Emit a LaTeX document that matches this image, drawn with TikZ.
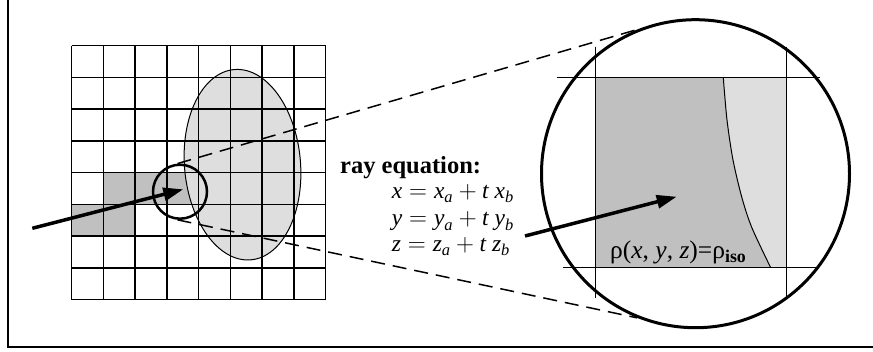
\documentclass[tikz,border=0pt]{standalone}
\usepackage{amsmath}
\usepackage{fontspec}
\setmainfont{Liberation Serif}
\usetikzlibrary{arrows.meta, calc}
\definecolor{cellgray}{RGB}{192,192,192}
\definecolor{blobgray}{RGB}{222,222,222}
\tikzset{
  gridline/.style={line width=1.5pt},
  ray/.style={line width=3.5pt, -{Triangle[length=20pt,width=13pt]}},
  zoomline/.style={line width=1.5pt, dash pattern=on 14pt off 8pt},
  ring/.style={circle, draw, inner sep=0pt},
  eqtext/.style={anchor=base west, inner sep=0pt, font=\fontsize{23.5}{28}\selectfont},
}
\newcommand{\iv}[1]{\textit{#1}}

\begin{document}
\begin{tikzpicture}[x=1pt,y=-1pt]
        \useasboundingbox (0,0) rectangle (873,351);
        % frame
        \draw[line width=2pt] (8,0) -- (8,347) -- (873,347);
        % voxels hit by the ray
        \foreach \c/\r in {1/4,2/4,3/4,0/5,1/5}
          \fill[cellgray] (71.7+\c*31.75,45.7+\r*31.75) rectangle ++(31.75,31.75);
        % iso-surface blob
        \fill[blobgray, rotate around={5:(242.5,164.7)}] (242.5,164.7) ellipse (58 and 95.5);
        % voxel grid
        \foreach \i in {0,...,8} {
          \draw[gridline] (71.7+\i*31.75,45.7) -- (71.7+\i*31.75,299.7);
          \draw[gridline] (71.7,45.7+\i*31.75) -- (325.7,45.7+\i*31.75);
        }
        \draw[line width=1pt, rotate around={5:(242.5,164.7)}] (242.5,164.7) ellipse (58 and 95.5);
        % magnified voxel
        \fill[cellgray] (595.7,77.7) rectangle (786.7,267.7);
        \fill[blobgray] plot[smooth, tension=0.5] coordinates {(723.3,77.7) (727,120) (733,160) (742,198) (752,228) (770.7,267.7)}
          -- (786.7,267.7) -- (786.7,77.7) -- cycle;
        \draw[line width=1pt] plot[smooth, tension=0.5] coordinates {(723.3,77.7) (727,120) (733,160) (742,198) (752,228) (770.7,267.7)};
        \draw[gridline] (556.7,77.7) -- (820,77.7);
        \draw[gridline] (563.3,267.7) -- (816.7,267.7);
        \draw[gridline] (595.7,46.7) -- (595.7,298.3);
        \draw[gridline] (786.7,46.7) -- (786.7,296.7);
        % lens and zoom circles
        \node[ring, line width=2.5pt, minimum size=54pt] (lens) at (180,191.7) {};
        \node[ring, line width=3pt, minimum size=308pt] (zoom) at (695.5,173.7) {};
        \draw[zoomline] (lens.95) -- (zoom.112);
        \draw[zoomline] (lens.-95) -- (zoom.-112);
        % rays
        \coordinate (rayin) at (32.3,228.3);
        \coordinate (raytip) at (183.3,189.3);
        \draw[ray] (rayin) -- (raytip);
        \coordinate (zoomin) at (525,236);
        \coordinate (zoomtip) at (676.7,196.7);
        \draw[ray] (zoomin) -- (zoomtip);
        % labels
        \node[anchor=base west, inner sep=0pt, font=\fontsize{24.5}{29}\selectfont\bfseries] (raylabel) at (340,173.3) {ray equation:};
        \node[eqtext] (eqx) at (391.7,198.5) {$\iv{x} = \iv{x}_{\iv{a}} + \iv{t}\ \iv{x}_{\iv{b}}$};
        \node[eqtext] (eqy) at (391.7,225) {$\iv{y} = \iv{y}_{\iv{a}} + \iv{t}\ \iv{y}_{\iv{b}}$};
        \node[eqtext] (eqz) at (391.7,251.5) {$\iv{z} = \iv{z}_{\iv{a}} + \iv{t}\ \iv{z}_{\iv{b}}$};
        \node[anchor=base west, inner sep=0pt, font=\fontsize{25.5}{30}\selectfont] (isolabel) at (610,258.3)
            {ρ(\iv{x}, \iv{y}, \iv{z})=ρ\textsubscript{\textbf{iso}}};
      \end{tikzpicture}
\end{document}
